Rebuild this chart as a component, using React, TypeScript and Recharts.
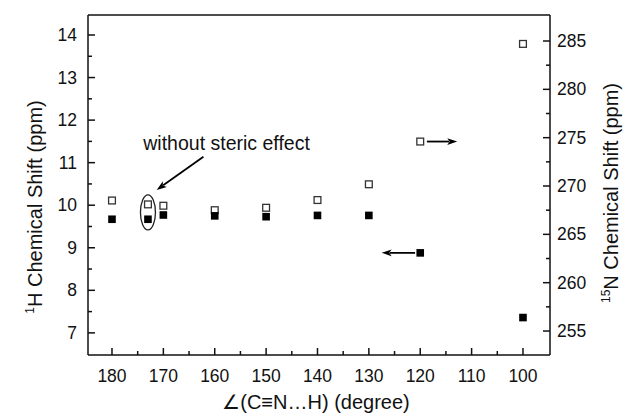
import {
  ScatterChart,
  Scatter,
  XAxis,
  YAxis,
  ReferenceLine,
  ReferenceDot,
  Label,
} from "recharts";

const angles = [180, 173, 170, 160, 150, 140, 130, 120, 100];
const hShift = [9.67, 9.67, 9.77, 9.75, 9.73, 9.76, 9.76, 8.88, 7.36];
const nShift = [268.5, 268.1, 267.96, 267.5, 267.75, 268.55, 270.18, 274.6, 284.7];

const xTicks = [180, 175, 170, 165, 160, 155, 150, 145, 140, 135, 130, 125, 120, 115, 110, 105, 100];
const hTicks = [7, 7.5, 8, 8.5, 9, 9.5, 10, 10.5, 11, 11.5, 12, 12.5, 13, 13.5, 14];
const nTicks = [255, 257.5, 260, 262.5, 265, 267.5, 270, 272.5, 275, 277.5, 280, 282.5, 285];

const xDomain = [94.74, 184.67];
const hDomain = [6.48, 14.47];
const nDomain = [252.52, 287.69];

const hPoints = angles.map((a, i) => ({ angle: a, value: hShift[i] }));
const nPoints = angles.map((a, i) => ({ angle: a, value: nShift[i] }));

const FONT = "'Liberation Sans', Arial, sans-serif";
const INK = "#111";

const isWhole = (v: number, step: number) => Math.abs(v / step - Math.round(v / step)) < 1e-6;

function XTick(props: any) {
  const { x, y, payload } = props;
  const major = isWhole(payload.value, 10);
  return (
    <g>
      <line x1={x} y1={y} x2={x} y2={y - (major ? 7 : 4)} stroke={INK} strokeWidth={1.5} />
      {major && (
        <text x={x} y={y + 27} textAnchor="middle" fontSize={17.5} fontFamily={FONT} fill={INK}>
          {payload.value}
        </text>
      )}
    </g>
  );
}

function LeftTick(props: any) {
  const { x, y, payload } = props;
  const major = isWhole(payload.value, 1);
  return (
    <g>
      <line x1={x} y1={y} x2={x + (major ? 7 : 4)} y2={y} stroke={INK} strokeWidth={1.5} />
      {major && (
        <text x={x - 11} y={y + 6} textAnchor="end" fontSize={17.5} fontFamily={FONT} fill={INK}>
          {payload.value}
        </text>
      )}
    </g>
  );
}

function RightTick(props: any) {
  const { x, y, payload } = props;
  const major = isWhole(payload.value, 5);
  return (
    <g>
      <line x1={x} y1={y} x2={x - (major ? 7 : 4)} y2={y} stroke={INK} strokeWidth={1.5} />
      {major && (
        <text x={x + 7} y={y + 6} textAnchor="start" fontSize={17.5} fontFamily={FONT} fill={INK}>
          {payload.value}
        </text>
      )}
    </g>
  );
}

const FilledSquare = (props: any) => (
  <rect x={props.cx - 3.8} y={props.cy - 3.8} width={7.6} height={7.6} fill="#000" />
);

const OpenSquare = (props: any) => (
  <rect x={props.cx - 3.4} y={props.cy - 3.4} width={6.8} height={6.8} fill="#fff" stroke="#333" strokeWidth={1.3} />
);

const Arrow = (props: any) => {
  const { x1, y1, x2, y2 } = props;
  const dx = x2 - x1;
  const dy = y2 - y1;
  const len = Math.sqrt(dx * dx + dy * dy) || 1;
  const ux = dx / len;
  const uy = dy / len;
  const hl = 10;
  const hw = 3.4;
  const bx = x2 - ux * hl;
  const by = y2 - uy * hl;
  return (
    <g>
      <line x1={x1} y1={y1} x2={bx + ux * 2} y2={by + uy * 2} stroke="#000" strokeWidth={1.8} />
      <polygon
        points={`${x2},${y2} ${bx - uy * hw},${by + ux * hw} ${bx + ux * 2.5},${by + uy * 2.5} ${bx + uy * hw},${by - ux * hw}`}
        fill="#000"
      />
    </g>
  );
};

const Ellipse = (props: any) => (
  <ellipse cx={props.cx} cy={props.cy} rx={7.5} ry={17.5} fill="none" stroke="#222" strokeWidth={1.3} />
);

const NoteText = (props: any) => (
  <text x={props.cx} y={props.cy} textAnchor="middle" fontSize={19.5} fontFamily={FONT} fill={INK}>
    without steric effect
  </text>
);

function LeftTitle(props: any) {
  const vb = props.viewBox || { x: 0, y: 15, width: 88, height: 340 };
  const x = vb.x + 42;
  const y = vb.y + vb.height / 2 + 22;
  return (
    <text x={x} y={y} transform={`rotate(-90 ${x} ${y})`} textAnchor="middle" fontSize={20} fontFamily={FONT} fill={INK}>
      <tspan fontSize={12} dy={-8}>1</tspan>
      <tspan dy={8}>H Chemical Shift (ppm)</tspan>
    </text>
  );
}

function RightTitle(props: any) {
  const vb = props.viewBox || { x: 550, y: 15, width: 76, height: 340 };
  const x = vb.x + 68;
  const y = vb.y + vb.height / 2 + 8;
  return (
    <text x={x} y={y} transform={`rotate(-90 ${x} ${y})`} textAnchor="middle" fontSize={20} fontFamily={FONT} fill={INK}>
      <tspan fontSize={12} dy={-8}>15</tspan>
      <tspan dy={8}>N Chemical Shift (ppm)</tspan>
    </text>
  );
}

function BottomTitle(props: any) {
  const vb = props.viewBox || { x: 88, y: 355, width: 462, height: 65 };
  return (
    <text x={vb.x + vb.width / 2 - 3} y={vb.y + 54} textAnchor="middle" fontSize={20} fontFamily={FONT} fill={INK}>
      ∠(C≡N…H) (degree)
    </text>
  );
}

export default function App() {
  return (
    <div style={{ position: "absolute", left: 0, top: 0, width: 626, height: 420, background: "#fff" }}>
      <ScatterChart width={626} height={420} margin={{ top: 15, right: 0, bottom: 0, left: 0 }}>
        <XAxis
          type="number"
          dataKey="angle"
          domain={xDomain}
          reversed
          ticks={xTicks}
          interval={0}
          height={65}
          tickSize={0}
          tickMargin={0}
          tickLine={false}
          axisLine={{ stroke: INK, strokeWidth: 1.5 }}
          tick={XTick}
          allowDataOverflow
        >
          <Label content={BottomTitle} />
        </XAxis>
        <YAxis
          yAxisId="left"
          type="number"
          dataKey="value"
          domain={hDomain}
          ticks={hTicks}
          interval={0}
          width={88}
          tickSize={0}
          tickMargin={0}
          tickLine={false}
          axisLine={{ stroke: INK, strokeWidth: 1.5 }}
          tick={LeftTick}
          allowDataOverflow
        >
          <Label content={LeftTitle} />
        </YAxis>
        <YAxis
          yAxisId="right"
          orientation="right"
          type="number"
          dataKey="value"
          domain={nDomain}
          ticks={nTicks}
          interval={0}
          width={76}
          tickSize={0}
          tickMargin={0}
          tickLine={false}
          axisLine={{ stroke: INK, strokeWidth: 1.5 }}
          tick={RightTick}
          allowDataOverflow
        >
          <Label content={RightTitle} />
        </YAxis>
        <ReferenceLine yAxisId="left" y={hDomain[1]} stroke={INK} strokeWidth={1.5} ifOverflow="visible" />
        <Scatter yAxisId="right" data={nPoints} shape={OpenSquare} isAnimationActive={false} />
        <Scatter yAxisId="left" data={hPoints} shape={FilledSquare} isAnimationActive={false} />
        <ReferenceDot yAxisId="left" x={173} y={9.83} shape={Ellipse} />
        <ReferenceDot yAxisId="left" x={157.7} y={11.3} shape={NoteText} />
        <ReferenceLine
          yAxisId="left"
          segment={[{ x: 162.2, y: 11.14 }, { x: 171.3, y: 10.36 }]}
          shape={Arrow}
        />
        <ReferenceLine
          yAxisId="right"
          segment={[{ x: 118.7, y: 274.6 }, { x: 112.8, y: 274.6 }]}
          shape={Arrow}
        />
        <ReferenceLine
          yAxisId="left"
          segment={[{ x: 121.0, y: 8.88 }, { x: 127.5, y: 8.88 }]}
          shape={Arrow}
        />
      </ScatterChart>
    </div>
  );
}
